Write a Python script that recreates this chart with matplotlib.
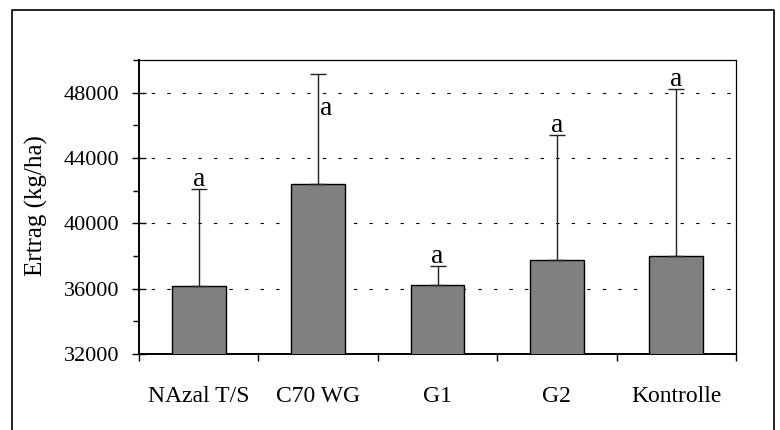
import matplotlib
matplotlib.use("Agg")
import matplotlib.pyplot as plt
from matplotlib.lines import Line2D
from matplotlib.ticker import MultipleLocator, FixedLocator

# Ertrag je Variante (kg/ha), Standardabweichung und Signifikanzbuchstaben
categories = ["NAzal T/S", "C70 WG", "G1", "G2", "Kontrolle"]
ertrag = [36150, 42400, 36250, 37750, 37980]
fehler = [5950, 6720, 1130, 7670, 10260]
buchstaben = ["a", "a", "a", "a", "a"]
y_ticks = [32000, 36000, 40000, 44000, 48000]

plt.rcParams['font.family'] = ['Liberation Serif', 'DejaVu Serif']

fig = plt.figure(figsize=(7.8, 4.3), dpi=100)
ax = fig.add_axes([139 / 780, 76 / 430, 597 / 780, 294 / 430])

x = list(range(len(categories)))
ax.bar(x, ertrag, width=0.45, color='#808080', edgecolor='black',
       linewidth=1.0, zorder=3)
ax.errorbar(x, ertrag, yerr=[[0] * len(fehler), fehler], fmt='none',
            ecolor='#222222', elinewidth=1.0, capsize=5.5, capthick=1.0,
            zorder=4)

# Buchstaben über den Fehlerbalken (Kappe wirkt als Unterstrich)
for i, (v, e, b) in enumerate(zip(ertrag, fehler, buchstaben)):
    if i == 1:
        # bei C70 WG steht der Buchstabe neben der Linie
        ax.text(i + 0.02, 46650, b, ha='left', va='baseline', fontsize=20,
                zorder=5)
    else:
        ax.annotate(b, (i, v + e), xytext=(0, 2), textcoords='offset points',
                    ha='center', va='baseline', fontsize=20, zorder=5)

ax.set_xlim(-0.5, len(categories) - 0.5)
ax.set_ylim(32000, 50000)

# Gitterlinien gepunktet
for t in y_ticks[1:]:
    ax.axhline(t, color='black', linewidth=0.8, linestyle=(3, (3.0, 11.0)),
               zorder=1)

ax.yaxis.set_major_locator(FixedLocator(y_ticks))
ax.yaxis.set_minor_locator(MultipleLocator(2000))
ax.set_yticklabels([str(t) for t in y_ticks])
ax.tick_params(axis='y', which='major', direction='inout', length=10.5,
               width=1.0, pad=9, labelsize=16)
ax.tick_params(axis='y', which='minor', direction='out', length=4.5,
               width=1.0)

ax.set_xticks(x)
ax.set_xticklabels(categories)
ax.xaxis.set_minor_locator(FixedLocator([i - 0.5 for i in range(len(categories) + 1)]))
ax.tick_params(axis='x', which='major', length=0, pad=23, labelsize=17)
ax.tick_params(axis='x', which='minor', direction='out', length=5, width=1.0)

for side in ['left', 'bottom']:
    ax.spines[side].set_linewidth(1.4)
for side in ['top', 'right']:
    ax.spines[side].set_linewidth(0.9)

fig.text(36 / 780, 1 - 206 / 430, "Ertrag (kg/ha)", rotation=90,
         ha='center', va='center', fontsize=18)

# äußerer Rahmen (unten abgeschnitten)
l, r, t = 12 / 780, 774 / 780, 1 - 10 / 430
fig.add_artist(Line2D([l, l, r, r], [-0.05, t, t, -0.05], color='black',
                      linewidth=1.2, transform=fig.transFigure))

fig.savefig("out.png", dpi=100)
